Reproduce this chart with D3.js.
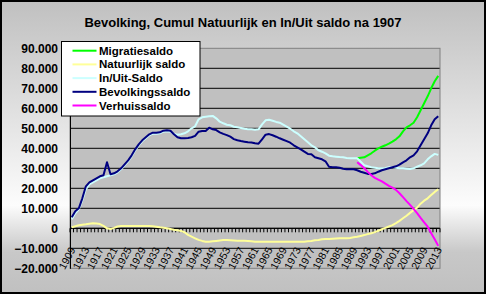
<!DOCTYPE html>
<html>
<head>
<meta charset="utf-8">
<script src="https://cdn.jsdelivr.net/npm/d3@7"></script>
<style>
  body { margin: 0; background: #fff; }
  svg text { font-family: "Liberation Sans", Arial, sans-serif; }
</style>
</head>
<body>
<svg id="chart" width="486" height="294"></svg>
<script>
const svg = d3.select("#chart");
const width = +svg.attr("width");
const height = +svg.attr("height");

// categories
const years = d3.range(1909, 2014);
const recentYears = d3.range(1990, 2014);
const yTicks = d3.range(-20000, 90001, 10000);
const labelYears = years.filter((y, i) => i % 4 === 0);

// series values
const natuurlijk = [
  500, 1000, 1500, 1800, 2000, 2300, 2500, 2400, 2100, 1200,
  0, -400, 200, 900, 1100, 1200, 1200, 1200, 1200, 1200,
  1200, 1200, 1100, 1000, 800, 500, 300, 0, -300, -700,
  -1000, -1300, -2000, -3300, -4200, -5000, -5800, -6300, -6700, -6700,
  -6500, -6300, -6100, -5900, -5900, -6000, -6100, -6200, -6200, -6200,
  -6300, -6500, -6700, -6700, -6700, -6700, -6700, -6700, -6700, -6700,
  -6700, -6700, -6700, -6700, -6700, -6700, -6700, -6500, -6300, -6000,
  -5800, -5500, -5300, -5300, -5200, -5100, -5000, -5000, -5000, -4800,
  -4500, -4200, -3800, -3400, -2900, -2500, -1900, -1200, -500, 200,
  900, 1600, 2600, 3700, 5000, 6300, 7700, 9100, 10300, 12300,
  13800, 15000, 16600, 18200, 19500
];
const inUit = [
  4500, 7500, 9500, 14000, 19500, 22000, 23000, 24000, 25000, 25500,
  26000, 26500, 27000, 28000, 29500, 31500, 33500, 36000, 39000, 41500,
  43500, 45000, 46500, 47300, 47300, 47500, 48300, 48500, 48300, 47200,
  46800, 47000, 47500, 48500, 50000, 51000, 54500, 55500, 55800, 56000,
  56200, 55000, 53300, 52500, 51800, 51500, 50800, 50500, 50200, 49800,
  49500, 49500, 49300, 49500, 52000, 54000, 54300, 53800, 53200, 52800,
  51800, 50800, 49800, 48500, 47500, 46000, 44500, 43000, 41500, 40500,
  39000, 38300, 37500, 36300, 36000, 35800, 35600, 35500, 35200, 35000,
  35000, 35000, 33300, 31500, 31000, 30500, 30300, 30000, 30000, 30200,
  30500, 30500, 30300, 30000, 30000, 29800, 29600, 30000, 30800, 31500,
  32500, 34500, 36000, 37200, 36700
];
const bevolking = [
  5500, 8500, 10000, 15000, 21000, 23000, 24000, 25000, 26000, 26500,
  33000, 27000, 27500, 28500, 30000, 32000, 34000, 36500, 39500, 42000,
  44000, 45500, 47000, 47800, 47800, 48000, 48800, 49000, 48800, 47000,
  45500, 45000, 45000, 45200, 45500, 46200, 48300, 48600, 48700, 50300,
  49500, 49100, 48000, 47200, 46600, 45800, 44600, 44000, 43600, 43300,
  43000, 42900, 42500, 42300, 44500, 46800, 47100, 46500, 45800, 45000,
  44300, 43600, 42800, 41500, 40500, 39500, 38300, 37200, 37000, 35500,
  35000, 34500, 33500, 30800, 30500, 30500, 30300, 29800, 29500, 29500,
  29500, 29000, 28300, 27800, 27200, 27200, 27500, 28300, 29000, 29500,
  30000, 30500, 31000, 31800, 33000, 34000, 35500, 36500, 38500, 41500,
  44500, 47500, 51500, 54500, 56000
];
const migratie = [
  35000, 35300, 35500, 36500, 37500, 38800, 40000, 40800, 41500, 42300,
  43300, 44500, 46000, 48500, 50500, 51500, 52800, 55500, 59000, 62500,
  66000, 70000, 73500, 76200
];
const verhuis = [
  33000, 31600, 30000, 28200, 26500, 25200, 24300, 23500, 22300, 21200,
  20300, 19200, 17500, 15600, 13600, 11700, 9700, 7600, 5200, 3000,
  800, -2500, -5500, -8800
];

const series = [
  { name: "Migratiesaldo", color: "#00ff00", x: recentYears, values: migratie },
  { name: "Natuurlijk saldo", color: "#ffff99", x: years, values: natuurlijk },
  { name: "In/Uit-Saldo", color: "#ccffff", x: years, values: inUit },
  { name: "Bevolkingssaldo", color: "#000080", x: years, values: bevolking },
  { name: "Verhuissaldo", color: "#ff00ff", x: recentYears, values: verhuis }
];

const plot = { left: 70, right: 440, top: 48.3, bottom: 268.3 };

// background gradient
const defs = svg.append("defs");
const grad = defs.append("linearGradient")
    .attr("id", "bg").attr("x1", 0).attr("y1", 0).attr("x2", 0).attr("y2", 1);
grad.append("stop").attr("offset", "0").attr("stop-color", "#c0c0c0");
grad.append("stop").attr("offset", "0.7").attr("stop-color", "#fcfcfc");
grad.append("stop").attr("offset", "0.86").attr("stop-color", "#c8c8c8");
grad.append("stop").attr("offset", "1").attr("stop-color", "#c0c0c0");

svg.append("rect")
    .attr("x", 1).attr("y", 1)
    .attr("width", width - 2).attr("height", height - 2)
    .attr("fill", "url(#bg)")
    .attr("stroke", "#000")
    .attr("stroke-width", 2);

svg.append("text")
    .attr("x", 243).attr("y", 27)
    .attr("text-anchor", "middle")
    .style("font-size", "13px").style("font-weight", "bold")
    .text("Bevolking, Cumul Natuurlijk en In/Uit saldo na 1907");

const x = d3.scaleBand().domain(years).range([plot.left, plot.right]);
const y = d3.scaleLinear().domain([-20000, 90000]).range([plot.bottom, plot.top]);
const cx = yr => x(yr) + x.bandwidth() / 2;

// plot area
svg.append("rect")
    .attr("x", plot.left).attr("y", plot.top)
    .attr("width", plot.right - plot.left).attr("height", plot.bottom - plot.top)
    .attr("fill", "#c0c0c0");

// gridlines
svg.append("g")
    .selectAll("line")
    .data(yTicks.filter(v => v > -20000 && v < 90000))
    .join("line")
    .attr("x1", plot.left).attr("x2", plot.right)
    .attr("y1", d => y(d)).attr("y2", d => y(d))
    .attr("stroke", "#000").attr("stroke-width", 1);

svg.append("rect")
    .attr("x", plot.left).attr("y", plot.top)
    .attr("width", plot.right - plot.left).attr("height", plot.bottom - plot.top)
    .attr("fill", "none").attr("stroke", "#808080");

// y axis
const yAxis = d3.axisLeft(y)
    .tickValues(yTicks)
    .tickSize(0)
    .tickPadding(12)
    .tickFormat(d => d === 0 ? "0" : d3.format(",")(d).replace(/,/g, "."));
const yG = svg.append("g").attr("transform", `translate(${plot.left},0)`).call(yAxis);
yG.select(".domain").attr("stroke", "#000");
yG.selectAll("text")
    .attr("fill", "#000")
    .style("font-size", "12px").style("font-weight", "bold")
    .style("font-family", "'Liberation Sans', Arial, sans-serif");

// category axis at 0
const xAxisY = y(0);
svg.append("line")
    .attr("x1", plot.left).attr("x2", plot.right)
    .attr("y1", xAxisY).attr("y2", xAxisY)
    .attr("stroke", "#000");
svg.append("g")
    .selectAll("line")
    .data(years.concat([null]))
    .join("line")
    .attr("x1", (d, i) => plot.left + i * x.step())
    .attr("x2", (d, i) => plot.left + i * x.step())
    .attr("y1", xAxisY).attr("y2", xAxisY + 4)
    .attr("stroke", "#000");

svg.append("g")
    .selectAll("text")
    .data(labelYears)
    .join("text")
    .attr("transform", d => `translate(${cx(d) - 3},${246}) rotate(-62)`)
    .attr("text-anchor", "end")
    .attr("dy", "0.75em")
    .style("font-size", "10.5px")
    .text(d => d);

// lines
const line = d3.line()
    .x(d => cx(d[0]))
    .y(d => y(d[1]));

series.forEach(s => {
    svg.append("path")
        .datum(s.x.map((yr, i) => [yr, s.values[i]]))
        .attr("d", line)
        .attr("fill", "none")
        .attr("stroke", s.color)
        .attr("stroke-width", 2)
        .attr("stroke-linejoin", "round");
});

// legend
const legend = svg.append("g");
legend.append("rect")
    .attr("x", 61.5).attr("y", 41.5)
    .attr("width", 138.5).attr("height", 74.5)
    .attr("fill", "#fff").attr("stroke", "#000");
series.forEach((s, i) => {
    const ly = 50.7 + i * 13.7;
    legend.append("line")
        .attr("x1", 72.5).attr("x2", 96.5)
        .attr("y1", ly).attr("y2", ly)
        .attr("stroke", s.color).attr("stroke-width", 2);
    legend.append("text")
        .attr("x", 99).attr("y", ly + 4)
        .style("font-size", "11.5px").style("font-weight", "bold")
        .text(s.name);
});
</script>
</body>
</html>
